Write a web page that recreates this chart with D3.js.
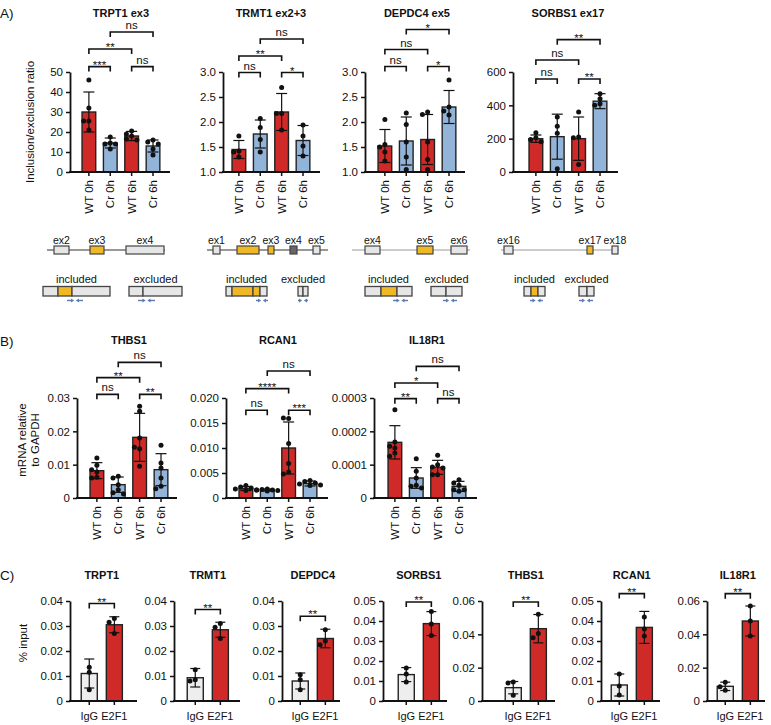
<!DOCTYPE html>
<html>
<head>
<meta charset="utf-8">
<script src="https://cdn.jsdelivr.net/npm/d3@7"></script>
<style>
  body { margin: 0; background: #fff; }
  text { font-family: "Liberation Sans", Arial, sans-serif; fill: #111; }
</style>
</head>
<body>
<svg id="fig" width="771" height="725"></svg>
<script>
const groups4 = ['WT 0h', 'Cr 0h', 'WT 6h', 'Cr 6h'];
const groups2 = ['IgG', 'E2F1'];
const RED = '#cf2a27', BLUE = '#93b4d9', GREY = '#eeeeee';

// ---- panel A: inclusion/exclusion ratio ----
const trpt1Ticks = ['0', '10', '20', '30', '40', '50'];
const trpt1Mean = [30, 14.5, 18, 13];
const trpt1Sd = [10, 2.5, 2.3, 3];
const trpt1Pts = [[46, 32, 25.5, 25.5, 21], [17.5, 14.5, 14, 14, 11.5], [20.5, 19, 18, 16.5, 16], [16, 15, 14, 11.5, 8.5]];
const trpt1Sig = [[0, 1, 52.7, '***'], [2, 3, 52.7, 'ns'], [0, 2, 61.5, '**'], [1, 3, 70, 'ns']];

const trmt1Ticks = ['1.0', '1.5', '2.0', '2.5', '3.0'];
const trmt1Mean = [1.45, 1.76, 2.2, 1.63];
const trmt1Sd = [0.18, 0.28, 0.37, 0.3];
const trmt1Pts = [[1.72, 1.42, 1.4, 1.3], [2.07, 1.89, 1.65, 1.4], [2.69, 2.17, 2.17, 1.84], [1.94, 1.72, 1.52, 1.32]];
const trmt1Sig = [[0, 1, 2.99, 'ns'], [2, 3, 2.99, '*'], [0, 2, 3.32, '**'], [1, 3, 3.66, 'ns']];

const depdc4Ticks = ['1.0', '1.5', '2.0', '2.5', '3.0'];
const depdc4Mean = [1.52, 1.62, 1.65, 2.3];
const depdc4Sd = [0.33, 0.48, 0.5, 0.33];
const depdc4Pts = [[2.05, 1.55, 1.5, 1.4, 1.22], [2.18, 1.95, 1.6, 1.3, 1.05], [2.2, 2.15, 1.6, 1.25, 1.05], [2.84, 2.3, 2.22, 2.14]];
const depdc4Sig = [[0, 1, 3.11, 'ns'], [2, 3, 3.11, '*'], [0, 2, 3.45, 'ns'], [1, 3, 3.85, '*']];

const sorbs1Ticks = ['0', '200', '400', '600'];
const sorbs1Mean = [200, 212, 200, 425];
const sorbs1Sd = [22, 135, 130, 45];
const sorbs1Pts = [[235, 205, 195, 182], [330, 275, 232, 20], [360, 210, 205, 45], [470, 440, 410, 400]];
const sorbs1Sig = [[0, 1, 558, 'ns'], [2, 3, 558, '**'], [0, 2, 672, 'ns'], [1, 3, 794, '**']];

// ---- panel B: mRNA relative to GAPDH ----
const thbs1Ticks = ['0', '0.01', '0.02', '0.03'];
const thbs1Mean = [0.0082, 0.004, 0.0182, 0.0085];
const thbs1Sd = [0.0024, 0.0023, 0.0072, 0.0048];
const thbs1Pts = [[0.012, 0.0098, 0.0085, 0.0078, 0.0062, 0.006], [0.0065, 0.006, 0.004, 0.0025, 0.0016, 0.0012],
  [0.0275, 0.026, 0.018, 0.0148, 0.0152, 0.0095], [0.0158, 0.0105, 0.009, 0.006, 0.0035, 0.0028]];
const thbs1Sig = [[0, 1, 0.0311, 'ns'], [2, 3, 0.0311, '**'], [0, 2, 0.0361, '**'], [1, 3, 0.0407, 'ns']];

const rcan1Ticks = ['0', '0.005', '0.010', '0.015', '0.020'];
const rcan1Mean = [0.0019, 0.0016, 0.01, 0.0029];
const rcan1Sd = [0.0004, 0.0002, 0.0052, 0.0005];
const rcan1Pts = [[0.0025, 0.0022, 0.002, 0.0018, 0.0016, 0.0015], [0.0018, 0.0017, 0.0016, 0.0016, 0.0015, 0.0014],
  [0.0159, 0.016, 0.0109, 0.0069, 0.0052, 0.0048], [0.0035, 0.0033, 0.003, 0.0028, 0.0026, 0.0025]];
const rcan1Sig = [[0, 1, 0.01754, 'ns'], [2, 3, 0.01754, '***'], [0, 2, 0.02188, '****'], [1, 3, 0.0254, 'ns']];

const il18r1Ticks = ['0', '0.0001', '0.0002', '0.0003'];
const il18r1Mean = [0.000167, 0.00006, 0.000092, 0.000035];
const il18r1Sd = [0.00005, 0.000031, 0.000021, 0.000015];
const il18r1Pts = [[0.000265, 0.000168, 0.000155, 0.00015, 0.000135, 0.000125], [0.000118, 0.00008, 0.00006, 0.000038, 0.000035, 0.00003],
  [0.000128, 0.0001, 0.000093, 0.00009, 0.00007, 0.00007], [0.000055, 0.000045, 0.000038, 0.000025, 0.000025, 0.00002]];
const il18r1Sig = [[0, 1, 0.000298, '**'], [2, 3, 0.000298, 'ns'], [0, 2, 0.000345, '*'], [1, 3, 0.000395, 'ns']];

// ---- panel C: ChIP % input ----
const chipTicks4 = ['0', '0.01', '0.02', '0.03', '0.04'];
const chipTicks5 = ['0', '0.01', '0.02', '0.03', '0.04', '0.05'];
const chipTicks6 = ['0', '0.02', '0.04', '0.06'];
const chipGenes = ['TRPT1', 'TRMT1', 'DEPDC4', 'SORBS1', 'THBS1', 'RCAN1', 'IL18R1'];
const chipMean = [[0.011, 0.0305], [0.0093, 0.0285], [0.008, 0.025], [0.0132, 0.0387], [0.008, 0.0434], [0.008, 0.0368], [0.0088, 0.048]];
const chipSd = [[0.0058, 0.0032], [0.0037, 0.003], [0.0032, 0.0037], [0.0035, 0.006], [0.0037, 0.0085], [0.0055, 0.008], [0.0025, 0.009]];
const chipPts = [
  [[0.0135, 0.0115, 0.0045], [0.033, 0.0315, 0.027]],
  [[0.0125, 0.0085, 0.008], [0.031, 0.0295, 0.025]],
  [[0.0105, 0.0085, 0.0045], [0.0285, 0.024, 0.0225]],
  [[0.0165, 0.0135, 0.0095], [0.0448, 0.0385, 0.0328]],
  [[0.0114, 0.0108, 0.0034], [0.052, 0.0405, 0.038]],
  [[0.0135, 0.0075, 0.003], [0.042, 0.036, 0.0325]],
  [[0.0112, 0.0085, 0.0065], [0.057, 0.048, 0.039]]
];
const chipSigY = [0.039, 0.0366, 0.0339, 0.0495, 0.0594, 0.0537, 0.0644];

const svg = d3.select('#fig');

// place dots so that ones with close values sit side by side
function swarm(vals, y, r) {
  const placed = [];
  return vals.map(v => {
    const py = y(v);
    for (const k of [0, -1, 1, -2, 2]) {
      const px = k * r * 2.1;
      if (placed.every(p => Math.hypot(p[0] - px, p[1] - py) >= r * 1.9)) {
        placed.push([px, py]);
        return [px, py];
      }
    }
    placed.push([0, py]);
    return [0, py];
  });
}

function drawChart(c, L) {
  const g = svg.append('g');
  const x0 = c.first - L.step / 2;
  const x = d3.scaleBand().domain(L.cats).range([x0, x0 + L.cats.length * L.step]).padding(L.pad);
  const y = d3.scaleLinear().domain([+c.ticks[0], +c.ticks[c.ticks.length - 1]]).range([L.bottom, L.top]);
  const cx = i => x(L.cats[i]) + x.bandwidth() / 2;

  g.selectAll('rect.bar').data(c.mean).join('rect')
    .attr('class', 'bar')
    .attr('x', (d, i) => x(L.cats[i]))
    .attr('width', x.bandwidth())
    .attr('y', d => y(d))
    .attr('height', d => L.bottom - y(d))
    .attr('fill', (d, i) => L.fills[i])
    .attr('stroke', '#222')
    .attr('stroke-width', 1.4);

  // SD error bars
  const eb = g.selectAll('g.err').data(c.mean).join('g').attr('class', 'err')
    .attr('stroke', '#111').attr('stroke-width', 1.2);
  eb.append('line').attr('x1', (d, i) => cx(i)).attr('x2', (d, i) => cx(i))
    .attr('y1', (d, i) => y(d - c.sd[i])).attr('y2', (d, i) => y(d + c.sd[i]));
  [-1, 1].forEach(s => {
    eb.append('line')
      .attr('x1', (d, i) => cx(i) - L.cap).attr('x2', (d, i) => cx(i) + L.cap)
      .attr('y1', (d, i) => y(d + s * c.sd[i])).attr('y2', (d, i) => y(d + s * c.sd[i]));
  });

  // individual points
  c.pts.forEach((vals, i) => {
    g.append('g').selectAll('circle').data(swarm(vals, y, 2.5)).join('circle')
      .attr('cx', d => cx(i) + d[0]).attr('cy', d => d[1]).attr('r', 2.5).attr('fill', '#111');
  });

  // y axis
  const yAx = d3.axisLeft(y).tickValues(c.ticks.map(Number))
    .tickFormat((d, i) => c.ticks[i]).tickSize(4).tickSizeOuter(0).tickPadding(3);
  const ya = g.append('g').attr('transform', `translate(${c.ax},0)`).call(yAx);
  ya.select('.domain').attr('stroke-width', 1.8).attr('stroke', '#111');
  ya.selectAll('.tick line').attr('stroke-width', 1.5).attr('stroke', '#111');
  ya.selectAll('.tick text').attr('font-size', L.fs).attr('font-family', null);

  // x axis: line plus small ticks under bars
  g.append('line').attr('x1', c.ax - 0.9).attr('x2', c.end).attr('y1', L.bottom).attr('y2', L.bottom)
    .attr('stroke', '#111').attr('stroke-width', 1.8);
  g.selectAll('line.xt').data(L.cats).join('line').attr('class', 'xt')
    .attr('x1', (d, i) => cx(i)).attr('x2', (d, i) => cx(i))
    .attr('y1', L.bottom).attr('y2', L.bottom + 4)
    .attr('stroke', '#111').attr('stroke-width', 1.5);
  if (L.rotate) {
    g.selectAll('text.xl').data(L.cats).join('text').attr('class', 'xl')
      .attr('transform', (d, i) => `translate(${cx(i) + 4},${L.bottom + 8}) rotate(-90)`)
      .attr('text-anchor', 'end').attr('font-size', L.fs).text(d => d);
  } else {
    g.selectAll('text.xl').data(L.cats).join('text').attr('class', 'xl')
      .attr('x', (d, i) => cx(i)).attr('y', L.bottom + 19)
      .attr('text-anchor', 'middle').attr('font-size', 11).text(d => d);
  }

  // significance brackets
  c.sig.forEach(([i, j, v, lab]) => {
    const yy = y(v), x1 = cx(i), x2 = cx(j);
    g.append('path').attr('d', `M${x1},${yy + 5}V${yy}H${x2}V${yy + 5}`)
      .attr('fill', 'none').attr('stroke', '#111').attr('stroke-width', 1.6);
    g.append('text').attr('x', (x1 + x2) / 2).attr('y', lab === 'ns' ? yy - 3 : yy + 2)
      .attr('text-anchor', 'middle').attr('font-size', L.fs).text(lab);
  });

  // title centred over the bars
  g.append('text').attr('x', (cx(0) + cx(L.cats.length - 1)) / 2).attr('y', L.titleY)
    .attr('text-anchor', 'middle').attr('font-size', 11).attr('font-weight', 'bold').text(c.title);
}

// ---- panel A ----
const layoutA = { cats: groups4, fills: [RED, BLUE, RED, BLUE], top: 72, bottom: 172, step: 23.3, pad: 0.36, cap: 5.5, fs: 11.5, rotate: true, titleY: 17 };
[
  { title: 'TRPT1 ex3', ticks: trpt1Ticks, mean: trpt1Mean, sd: trpt1Sd, pts: trpt1Pts, sig: trpt1Sig, ax: 70, first: 86, end: 170 },
  { title: 'TRMT1 ex2+3', ticks: trmt1Ticks, mean: trmt1Mean, sd: trmt1Sd, pts: trmt1Pts, sig: trmt1Sig, ax: 223, first: 236, end: 320 },
  { title: 'DEPDC4 ex5', ticks: depdc4Ticks, mean: depdc4Mean, sd: depdc4Sd, pts: depdc4Pts, sig: depdc4Sig, ax: 365, first: 382, end: 465 },
  { title: 'SORBS1 ex17', ticks: sorbs1Ticks, mean: sorbs1Mean, sd: sorbs1Sd, pts: sorbs1Pts, sig: sorbs1Sig, ax: 513, first: 533, end: 618 }
].forEach(c => drawChart(c, layoutA));

// ---- panel B ----
const layoutB = { ...layoutA, top: 398, bottom: 498, titleY: 344 };
[
  { title: 'THBS1', ticks: thbs1Ticks, mean: thbs1Mean, sd: thbs1Sd, pts: thbs1Pts, sig: thbs1Sig, ax: 77, first: 94, end: 177 },
  { title: 'RCAN1', ticks: rcan1Ticks, mean: rcan1Mean, sd: rcan1Sd, pts: rcan1Pts, sig: rcan1Sig, ax: 226, first: 243, end: 328 },
  { title: 'IL18R1', ticks: il18r1Ticks, mean: il18r1Mean, sd: il18r1Sd, pts: il18r1Pts, sig: il18r1Sig, ax: 374, first: 392, end: 477 }
].forEach(c => drawChart(c, layoutB));

// ---- panel C ----
const chipTicks = [chipTicks4, chipTicks4, chipTicks4, chipTicks5, chipTicks6, chipTicks5, chipTicks6];
const chipPos = [[70, 87, 137], [174, 193, 240], [282, 298, 340], [383, 404, 447], [482, 511, 555], [601, 617, 660], [707, 723, 765]];
chipGenes.forEach((gene, k) => {
  drawChart({
    title: gene, ticks: chipTicks[k], mean: chipMean[k], sd: chipSd[k], pts: chipPts[k],
    sig: [[0, 1, chipSigY[k], '**']], ax: chipPos[k][0], first: chipPos[k][1], end: chipPos[k][2]
  }, { cats: groups2, fills: [GREY, RED], top: 601, bottom: 701, step: 29.6, pad: 0.36, cap: 5, fs: 11.5, rotate: false, titleY: 579 });
});

// ---- axis titles & panel letters ----
svg.append('text').attr('transform', 'translate(34,122) rotate(-90)').attr('text-anchor', 'middle')
  .attr('font-size', 11.5).text('Inclusion/exclusion ratio');
svg.append('text').attr('transform', 'translate(26,440) rotate(-90)').attr('text-anchor', 'middle')
  .attr('font-size', 11.5).text('mRNA relative');
svg.append('text').attr('transform', 'translate(39,440) rotate(-90)').attr('text-anchor', 'middle')
  .attr('font-size', 11.5).text('to GAPDH');
svg.append('text').attr('transform', 'translate(27,643) rotate(-90)').attr('text-anchor', 'middle')
  .attr('font-size', 11.5).text('% input');
[['A)', 18], ['B)', 346], ['C)', 580]].forEach(([t, yy]) => {
  svg.append('text').attr('x', 0).attr('y', yy).attr('font-size', 13.5).text(t);
});

// ---- exon schematics under panel A ----
const EXF = { l: '#e6e6e6', y: '#f0b824', d: '#666666' };
const diagrams = [
  { line: [47, 165], lc: '#333', exons: [['ex2', 54, 15, 'l'], ['ex3', 90, 14, 'y'], ['ex4', 126, 38, 'l']],
    inc: [43, [['l', 15], ['y', 14], ['l', 38]]], exc: [129, [['l', 14], ['l', 39]]], incA: [67, 83], excA: [138, 155] },
  { line: [207, 328], lc: '#333', exons: [['ex1', 213, 7, 'l'], ['ex2', 237, 22, 'y'], ['ex3', 268, 6, 'y'], ['ex4', 290, 7, 'd'], ['ex5', 313, 7, 'l']],
    inc: [226, [['l', 6], ['y', 21], ['y', 7], ['l', 7]]], exc: [298, [['l', 5], ['l', 5]]], incA: [256, 268], excA: [298, 308] },
  { line: [352, 470], lc: '#999', exons: [['ex4', 365, 15, 'l'], ['ex5', 417, 16, 'y'], ['ex6', 451, 16, 'l']],
    inc: [365, [['l', 16], ['y', 16], ['l', 15]]], exc: [431, [['l', 15], ['l', 16]]], incA: [393, 408], excA: [443, 457] },
  { line: [501, 619], lc: '#999', exons: [['ex16', 504, 9, 'l'], ['ex17', 587, 6, 'y'], ['ex18', 612, 6, 'l']],
    inc: [524, [['l', 7], ['y', 7], ['l', 7]]], exc: [579, [['l', 8], ['l', 7]]], incA: [530, 543], excA: [579, 593] }
];
const dg = svg.append('g');
function arrowPair(a, b) {
  const m = (a + b) / 2, yy = 300.5, col = '#5b7db3';
  [[a, m - 0.8], [b, m + 0.8]].forEach(([s, e]) => {
    const dir = Math.sign(e - s);
    dg.append('line').attr('x1', s).attr('x2', e - dir * 2.5).attr('y1', yy).attr('y2', yy)
      .attr('stroke', col).attr('stroke-width', 1.4);
    dg.append('path').attr('d', `M${e},${yy}L${e - dir * 3.2},${yy - 2}L${e - dir * 3.2},${yy + 2}Z`).attr('fill', col);
  });
}
function splicedBox(x0, segs, label) {
  let xx = x0;
  const w = d3.sum(segs, s => s[1]);
  segs.forEach(([c, sw]) => {
    dg.append('rect').attr('x', xx).attr('y', 286.5).attr('width', sw).attr('height', 9.5)
      .attr('fill', EXF[c]).attr('stroke', '#444').attr('stroke-width', 1.3);
    xx += sw;
  });
  dg.append('text').attr('x', x0 + w / 2).attr('y', 283).attr('text-anchor', 'middle').attr('font-size', 11).text(label);
}
diagrams.forEach(d => {
  dg.append('line').attr('x1', d.line[0]).attr('x2', d.line[1]).attr('y1', 250).attr('y2', 250)
    .attr('stroke', d.lc).attr('stroke-width', 1.1);
  d.exons.forEach(([lab, ex, w, c]) => {
    dg.append('rect').attr('x', ex).attr('y', 246).attr('width', w).attr('height', 8)
      .attr('fill', EXF[c]).attr('stroke', '#444').attr('stroke-width', 1.2);
    dg.append('text').attr('x', ex + w / 2).attr('y', 244).attr('text-anchor', 'middle').attr('font-size', 10.5).text(lab);
  });
  splicedBox(d.inc[0], d.inc[1], 'included');
  splicedBox(d.exc[0], d.exc[1], 'excluded');
  arrowPair(d.incA[0], d.incA[1]);
  arrowPair(d.excA[0], d.excA[1]);
});
</script>
</body>
</html>
